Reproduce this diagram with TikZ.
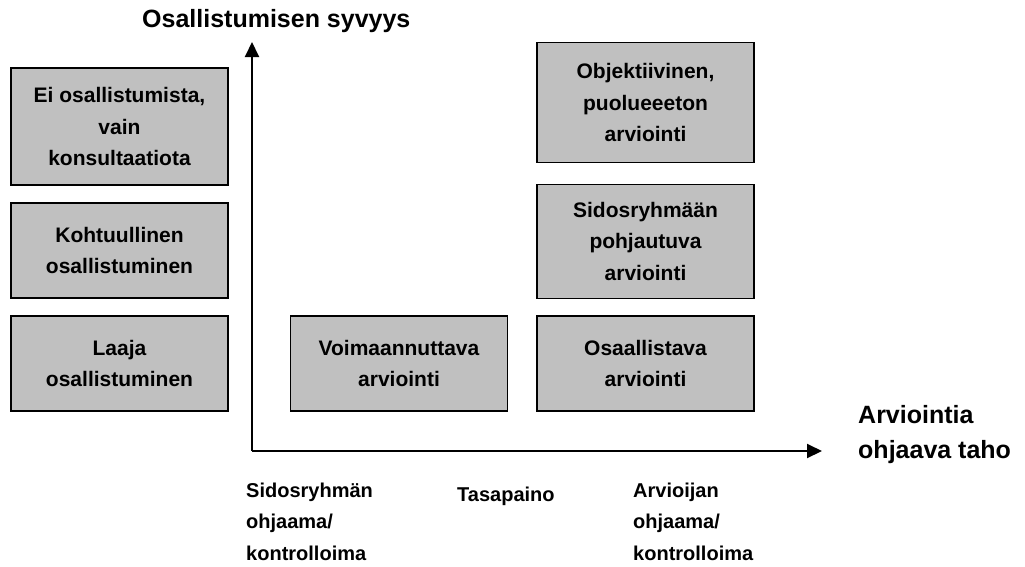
\documentclass[tikz,border=0pt]{standalone}
\usepackage{fontspec}
\setmainfont{Liberation Sans}
\usetikzlibrary{arrows.meta}
\definecolor{laatikko}{RGB}{192,192,192}
\begin{document}
\begin{tikzpicture}[x=1pt, y=-1pt, every node/.style={font=\bfseries},
    ruutu/.style={draw=black, line width=1.5pt, fill=laatikko, minimum width=217pt,
      align=center, inner sep=0pt, font=\fontsize{21}{31.5}\selectfont\bfseries},
    akseli/.style={line width=2pt, -{Triangle[length=15pt,width=14pt]}},
    otsikko/.style={font=\fontsize{25}{35}\selectfont\bfseries, align=left, inner sep=0pt},
    selite/.style={font=\fontsize{20}{31.5}\selectfont\bfseries, align=left, inner sep=0pt}]
        \useasboundingbox (0,0) rectangle (1025,566);

        % akselit
        \coordinate (origo) at (252,451);
        \coordinate (ylos) at (252,42);
        \coordinate (oikea) at (822,451);
        \draw[akseli] (origo) -- (ylos);
        \draw[akseli] (origo) -- (oikea);

        \node[otsikko, anchor=base west] (syvyys) at (142,27) {Osallistumisen syvyys};
        \node[otsikko, anchor=base west] (taho) at (858,458) {Arviointia\\ohjaava taho};

        % vasen sarake
        \node[ruutu, minimum height=117pt] (eiosall) at (119.5,126.5) {Ei osallistumista,\\vain\\konsultaatiota};
        \node[ruutu, minimum height=95pt] (kohtuul) at (119.5,250.5) {Kohtuullinen\\osallistuminen};
        \node[ruutu, minimum height=95pt] (laaja) at (119.5,363.5) {Laaja\\osallistuminen};

        % keskimmainen
        \node[ruutu, minimum height=95pt] (voima) at (399,363.5) {Voimaannuttava\\arviointi};

        % oikea sarake
        \node[ruutu, minimum height=120pt] (objekt) at (645.5,102.7) {Objektiivinen,\\puolueeeton\\arviointi};
        \node[ruutu, minimum height=114pt] (sidos) at (645.5,241.3) {Sidosryhmään\\pohjautuva\\arviointi};
        \node[ruutu, minimum height=95pt] (osaall) at (645.5,363.5) {Osaallistava\\arviointi};

        % vaaka-akselin selitteet
        \node[selite, anchor=base west] (sidosohj) at (246,560) {Sidosryhmän\\ohjaama/\\kontrolloima};
        \node[selite, anchor=base west] (tasap) at (457,501) {Tasapaino};
        \node[selite, anchor=base west] (arvohj) at (633,560) {Arvioijan\\ohjaama/\\kontrolloima};
    \end{tikzpicture}
\end{document}
